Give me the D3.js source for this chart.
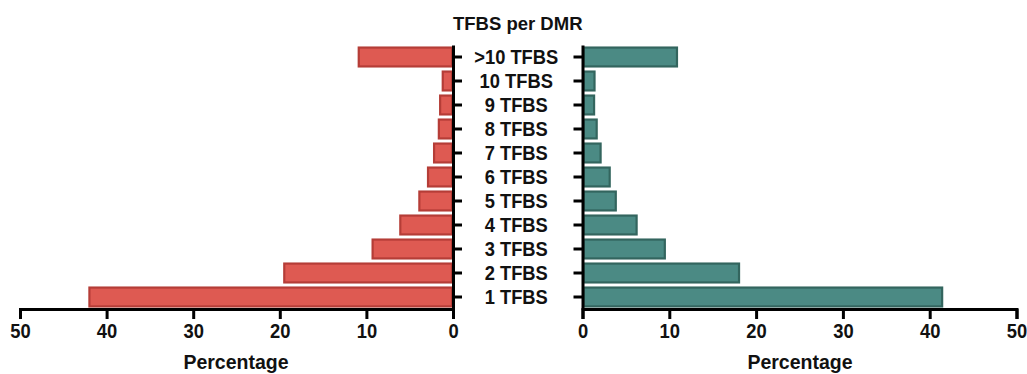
<!DOCTYPE html>
<html>
<head>
<meta charset="utf-8">
<script src="https://cdn.jsdelivr.net/npm/d3@7"></script>
<style>
  html, body { margin: 0; padding: 0; background: #fff; }
  svg text { font-family: "Liberation Sans", Arial, Helvetica, sans-serif; font-weight: bold; fill: #111; }
</style>
</head>
<body>
<svg id="chart" width="1027" height="374"></svg>
<script>
// TFBS count categories, top to bottom
const categories = [">10 TFBS", "10 TFBS", "9 TFBS", "8 TFBS", "7 TFBS", "6 TFBS",
                    "5 TFBS", "4 TFBS", "3 TFBS", "2 TFBS", "1 TFBS"];
// Percentage of DMRs per category (left panel, red)
const leftValues  = [11.0, 1.3, 1.6, 1.75, 2.3, 3.0, 4.0, 6.2, 9.4, 19.6, 42.1];
// Percentage of DMRs per category (right panel, teal)
const rightValues = [11.0, 1.5, 1.45, 1.75, 2.2, 3.25, 3.95, 6.35, 9.6, 18.15, 41.55];
const xTicks = [0, 10, 20, 30, 40, 50];
const titleText = "TFBS per DMR";
const axisTitle = "Percentage";

const svg = d3.select("#chart");

const yTop = 45, yBottom = 309;
const y = d3.scaleBand().domain(categories).range([yTop, yBottom]).paddingInner(0.13).paddingOuter(0.065);

const xLeft  = d3.scaleLinear().domain([0, 50]).range([453, 20]);
const xRight = d3.scaleLinear().domain([0, 50]).range([582.5, 1016.5]);

const red  = { fill: "#de5a52", stroke: "#b53d37" };
const teal = { fill: "#4b8a84", stroke: "#33655e" };

// Narrow a text element horizontally around its anchor x
function squeeze(sel, s) {
  sel.attr("transform", function () {
    const x = +this.getAttribute("x") || 0;
    return `translate(${x},0) scale(${s},1) translate(${-x},0)`;
  });
}

// Bars
function drawBars(values, x, col) {
  svg.append("g").selectAll("rect")
    .data(categories.map((c, i) => ({ c, v: values[i] })))
    .join("rect")
    .attr("x", d => Math.min(x(0), x(d.v)) + 1)
    .attr("y", d => y(d.c) + 1)
    .attr("width", d => Math.abs(x(d.v) - x(0)) - 2)
    .attr("height", y.bandwidth() - 2)
    .attr("fill", col.fill)
    .attr("stroke", col.stroke)
    .attr("stroke-width", 2.2);
}
drawBars(leftValues, xLeft, red);
drawBars(rightValues, xRight, teal);

// Axes
function styleAxis(g) {
  g.selectAll(".domain").attr("stroke", "#000").attr("stroke-width", 3);
  g.selectAll(".tick line").attr("stroke", "#000").attr("stroke-width", 3);
  g.selectAll(".tick text").attr("font-size", 20).attr("fill", "#111")
    .style("font-family", "'Liberation Sans', Arial, sans-serif").style("font-weight", "bold")
    .call(squeeze, 0.92);
}

const bottomL = svg.append("g").attr("transform", `translate(0,${yBottom})`)
  .call(d3.axisBottom(xLeft).tickValues(xTicks).tickSize(10).tickSizeOuter(10).tickPadding(5));
styleAxis(bottomL);
const bottomR = svg.append("g").attr("transform", `translate(0,${yBottom})`)
  .call(d3.axisBottom(xRight).tickValues(xTicks).tickSize(10).tickSizeOuter(10).tickPadding(5));
styleAxis(bottomR);

// Category axes: ticks pointing inward toward the labels
const leftY = svg.append("g").attr("transform", `translate(${xLeft(0)},0)`)
  .call(d3.axisRight(y).tickSize(9).tickSizeOuter(0).tickFormat(""));
styleAxis(leftY);
const rightY = svg.append("g").attr("transform", `translate(${xRight(0)},0)`)
  .call(d3.axisLeft(y).tickSize(9).tickSizeOuter(0).tickFormat(""));
styleAxis(rightY);

// Category labels centred between the panels
const midX = (xLeft(0) + xRight(0)) / 2;
svg.append("g").selectAll("text")
  .data(categories)
  .join("text")
  .attr("x", midX - 1.5)
  .attr("y", d => y(d) + y.bandwidth() / 2)
  .attr("dy", "0.37em")
  .attr("text-anchor", "middle")
  .attr("font-size", 19.5)
  .text(d => d)
  .call(squeeze, 0.94);

// Titles
svg.append("text").attr("x", midX).attr("y", 30).attr("text-anchor", "middle")
  .attr("font-size", 18.5).text(titleText);
svg.append("text").attr("x", 236).attr("y", 369).attr("text-anchor", "middle")
  .attr("font-size", 19.5).text(axisTitle);
svg.append("text").attr("x", 800).attr("y", 369).attr("text-anchor", "middle")
  .attr("font-size", 19.5).text(axisTitle);
</script>
</body>
</html>
